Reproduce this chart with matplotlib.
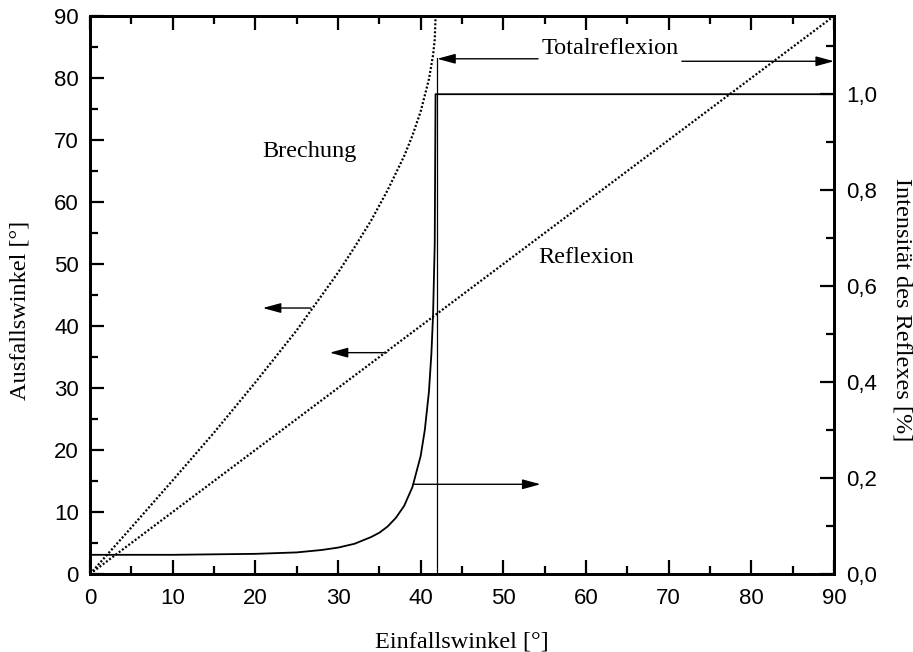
import matplotlib
matplotlib.use("Agg")
import matplotlib.pyplot as plt
from matplotlib.ticker import MultipleLocator, FuncFormatter

# Refraction (glass -> air): exit angle vs. angle of incidence
brechung_x = [0, 5, 10, 15, 20, 25, 30, 32, 34, 36, 38, 39, 40, 41, 41.5, 41.7, 41.81]
brechung_y = [0, 7.5, 15.1, 22.8, 30.9, 39.3, 48.6, 52.7, 57.0, 61.9, 67.4, 70.7, 74.6, 79.8, 83.7, 86.2, 90.0]

# Reflection: exit angle equals angle of incidence
reflexion_x = [0, 90]
reflexion_y = [0, 90]

# Reflected intensity (right axis)
intens_x = [0, 5, 10, 15, 20, 25, 28, 30, 32, 34, 35, 36, 37, 38, 39, 40, 40.5, 41, 41.3, 41.5, 41.7, 41.8, 42, 90]
intens_y = [0.040, 0.040, 0.040, 0.041, 0.042, 0.045, 0.050, 0.055, 0.063, 0.077, 0.086, 0.099,
            0.117, 0.142, 0.181, 0.246, 0.300, 0.380, 0.460, 0.540, 0.687, 1.0, 1.0, 1.0]

# Critical angle marker
grenzwinkel = 42.0

x_ticks = [0, 10, 20, 30, 40, 50, 60, 70, 80, 90]
y_ticks = [0, 10, 20, 30, 40, 50, 60, 70, 80, 90]
r_ticks = [0.0, 0.2, 0.4, 0.6, 0.8, 1.0]

serif = ["Liberation Serif", "DejaVu Serif"]
sans = ["Liberation Sans", "DejaVu Sans"]
plt.rcParams["font.family"] = sans

fig = plt.figure(figsize=(9.13, 6.52), dpi=100)
ax = fig.add_axes([90 / 913, 78 / 652, 744 / 913, 558 / 652])
ax2 = ax.twinx()

dots = (0, (0.9, 0.9))
ax.plot(brechung_x, brechung_y, color="black", lw=1.6, linestyle=dots)
ax.plot(reflexion_x, reflexion_y, color="black", lw=1.6, linestyle=dots)
ax.plot([grenzwinkel, grenzwinkel], [0, 83.2], color="black", lw=0.9)

ax2.plot(intens_x, intens_y, color="black", lw=1.3)

ax.set_xlim(0, 90)
ax.set_ylim(0, 90)
ax2.set_ylim(0, 1.163)

ax.set_xticks(x_ticks)
ax.set_yticks(y_ticks)
ax.xaxis.set_minor_locator(MultipleLocator(5))
ax.yaxis.set_minor_locator(MultipleLocator(5))
ax2.set_yticks(r_ticks)
ax2.yaxis.set_minor_locator(MultipleLocator(0.1))
ax2.yaxis.set_major_formatter(FuncFormatter(lambda v, p: f"{v:.1f}".replace(".", ",")))

ax.tick_params(which="both", direction="in", top=True, right=False, width=1.6, labelsize=16)
ax.tick_params(which="major", length=10)
ax.tick_params(which="minor", length=6)
ax.tick_params(axis="x", which="major", pad=10)
ax.tick_params(axis="y", which="major", pad=8)
ax2.tick_params(which="both", direction="in", width=1.6, labelsize=16)
ax2.tick_params(which="major", length=10, pad=9)
ax2.tick_params(which="minor", length=6)

for a in (ax, ax2):
    for s in a.spines.values():
        s.set_linewidth(2)

# Axis titles
ax.text(0.5, -0.122, "Einfallswinkel [°]", transform=ax.transAxes, ha="center", va="center",
        fontsize=17.5, family=serif)
ax.text(-0.094, 0.473, "Ausfallswinkel [°]", transform=ax.transAxes, ha="center", va="center",
        rotation=90, fontsize=17.5, family=serif)
ax.text(1.091, 0.473, "Intensität des Reflexes [%]", transform=ax.transAxes, ha="center",
        va="center", rotation=270, fontsize=17.5, family=serif)

# Curve labels
ax.text(26.6, 68.1, "Brechung", ha="center", va="center", fontsize=17.5, family=serif)
ax.text(60.0, 51.0, "Reflexion", ha="center", va="center", fontsize=17.5, family=serif)
ax.text(62.95, 84.7, "Totalreflexion", ha="center", va="center", fontsize=17.5, family=serif)

arrow = dict(arrowstyle="-|>,head_length=1.1,head_width=0.3", color="black", lw=1,
             shrinkA=0, shrinkB=0, mutation_scale=10)

# Arrows pointing to the axis each curve belongs to
ax.annotate("", xy=(20.9, 42.9), xytext=(26.7, 42.9), arrowprops=arrow)
ax.annotate("", xy=(29.0, 35.7), xytext=(35.9, 35.7), arrowprops=arrow)
ax2.annotate("", xy=(54.5, 0.187), xytext=(39.1, 0.187), arrowprops=arrow)

# Range of total reflection
ax.annotate("", xy=(grenzwinkel, 83.1), xytext=(54.2, 83.1), arrowprops=arrow)
ax.annotate("", xy=(90, 82.7), xytext=(71.6, 82.7), arrowprops=arrow)

fig.savefig("out.png", dpi=100)
